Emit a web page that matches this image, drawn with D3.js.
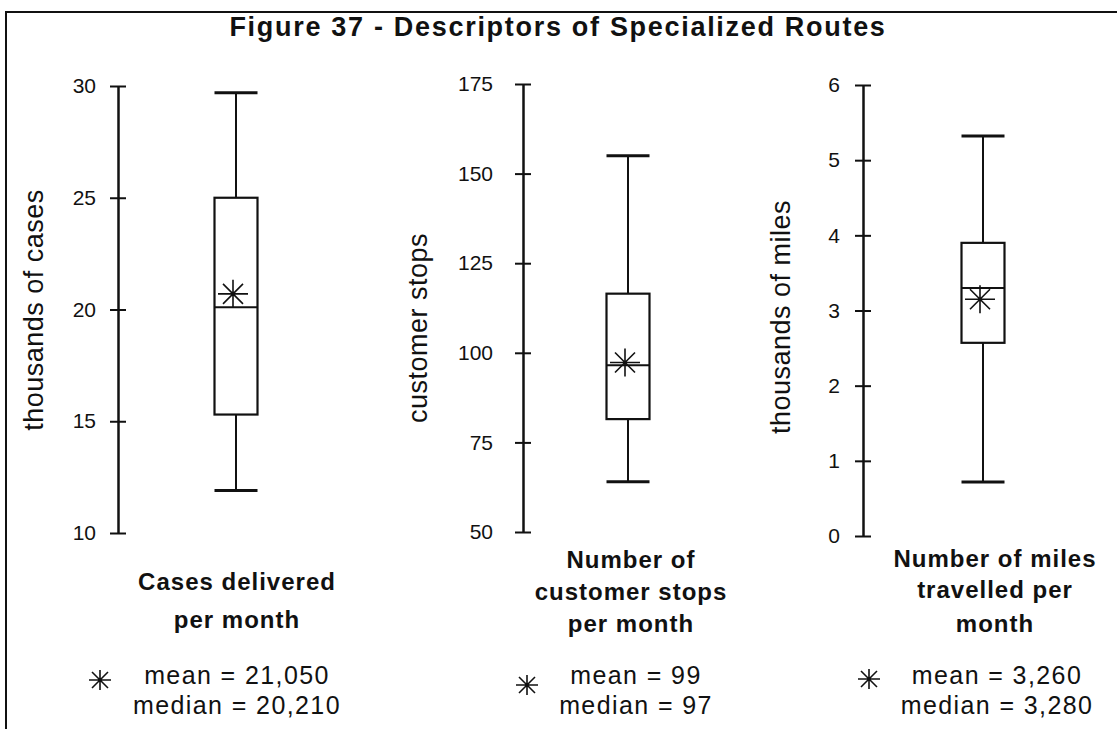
<!DOCTYPE html>
<html>
<head>
<meta charset="utf-8">
<script src="https://cdn.jsdelivr.net/npm/d3@7"></script>
<style>
body { margin: 0; background: #fff; }
text { font-family: "Liberation Sans", Arial, sans-serif; fill: #111; }
</style>
</head>
<body>
<div id="chart"></div>
<script>
// values
let axisTitles = ["thousands of cases", "customer stops", "thousands of miles"];
let yDomains = [[10, 30], [50, 175], [0, 6]];
let yTicks = [[10, 15, 20, 25, 30], [50, 75, 100, 125, 150, 175], [0, 1, 2, 3, 4, 5, 6]];
let whiskerLow = [11.9, 64, 0.72];
let quart1 = [15.3, 81.5, 2.57];
let medians = [20.1, 96.5, 3.3];
let quart3 = [25.0, 116.5, 3.9];
let whiskerHigh = [29.7, 155, 5.32];
let means = [20.7, 97.3, 3.15];
let captions = [["Cases delivered", "per month"], ["Number of", "customer stops", "per month"], ["Number of miles", "travelled per", "month"]];
let meanLabels = ["mean = 21,050", "mean = 99", "mean = 3,260"];
let medianLabels = ["median = 20,210", "median = 97", "median = 3,280"];

// layout
let width = 1117, height = 729;
let axisX = [118, 523, 863];
let boxX = [236, 628, 983];
let boxW = 43;
let yRanges = [[533, 86], [532, 84], [536, 85]];
let tickGap = [22, 30, 23];
let titleX = [43, 427, 790], titleY = [310, 328, 317];
let captionX = [237, 631, 995];
let captionY = [[590, 628], [568, 600, 632], [567, 598, 632]];
let legendX = [237, 636, 997];
let starX = [100, 527, 869], starY = [680, 685, 679];
let ink = "#111";

let star = function (rx, ry, rd) {
    return "M" + (-rx) + ",0H" + rx + "M0," + (-ry) + "V" + ry +
        "M" + (-rd) + "," + (-rd) + "L" + rd + "," + rd +
        "M" + (-rd) + "," + rd + "L" + rd + "," + (-rd);
};

let svg = d3.select("#chart")
    .append("svg")
    .attr("width", width)
    .attr("height", height);

// frame, only the top and left edges are in the scan
svg.append("path")
    .attr("d", "M6," + height + "V12H" + width)
    .attr("fill", "none")
    .attr("stroke", ink)
    .attr("stroke-width", 2);

svg.append("text")
    .attr("x", 558)
    .attr("y", 36)
    .attr("text-anchor", "middle")
    .attr("font-size", 27)
    .attr("font-weight", "bold")
    .attr("letter-spacing", 1.7)
    .text("Figure 37 - Descriptors of Specialized Routes");

let x = d3.scaleOrdinal()
    .domain([0, 1, 2])
    .range(boxX);

axisTitles.forEach(function (t, i) {
    let y = d3.scaleLinear()
        .domain(yDomains[i])
        .range(yRanges[i]);

    let ax = svg.append("g")
        .attr("transform", "translate(" + axisX[i] + ",0)")
        .call(d3.axisLeft(y).tickValues(yTicks[i]).tickFormat(d3.format("d"))
            .tickSizeOuter(0).tickSizeInner(8).tickPadding(tickGap[i] - 8))
        .attr("font-size", 21)
        .attr("color", ink);
    ax.select(".domain").attr("stroke-width", 2.5);
    ax.selectAll(".tick line").attr("x1", 8).attr("stroke-width", 2);

    svg.append("text")
        .attr("transform", "translate(" + titleX[i] + "," + titleY[i] + ") rotate(-90)")
        .attr("text-anchor", "middle")
        .attr("font-size", 27)
        .attr("letter-spacing", 0.5)
        .text(t);

    let g = svg.append("g")
        .attr("stroke", ink)
        .attr("fill", "none");
    let cx = x(i);
    g.append("line")
        .attr("x1", cx).attr("x2", cx)
        .attr("y1", y(quart3[i])).attr("y2", y(whiskerHigh[i]))
        .attr("stroke-width", 2);
    g.append("line")
        .attr("x1", cx).attr("x2", cx)
        .attr("y1", y(quart1[i])).attr("y2", y(whiskerLow[i]))
        .attr("stroke-width", 2);
    g.selectAll(".cap")
        .data([whiskerHigh[i], whiskerLow[i]])
        .enter()
        .append("line")
        .attr("class", "cap")
        .attr("x1", cx - boxW / 2).attr("x2", cx + boxW / 2)
        .attr("y1", function (d) { return y(d); })
        .attr("y2", function (d) { return y(d); })
        .attr("stroke-width", 3);
    g.append("rect")
        .attr("x", cx - boxW / 2)
        .attr("y", y(quart3[i]))
        .attr("width", boxW)
        .attr("height", y(quart1[i]) - y(quart3[i]))
        .attr("stroke-width", 2.2);
    g.append("line")
        .attr("x1", cx - boxW / 2).attr("x2", cx + boxW / 2)
        .attr("y1", y(medians[i])).attr("y2", y(medians[i]))
        .attr("stroke-width", 2);
    g.append("path")
        .attr("transform", "translate(" + (cx - 3) + "," + y(means[i]) + ")")
        .attr("d", star(15, 14, 10))
        .attr("stroke-width", 1.6);

    svg.selectAll(".cap" + i)
        .data(captions[i])
        .enter()
        .append("text")
        .attr("x", captionX[i])
        .attr("y", function (d, j) { return captionY[i][j]; })
        .attr("text-anchor", "middle")
        .attr("font-size", 24)
        .attr("font-weight", "bold")
        .attr("letter-spacing", 1)
        .text(function (d) { return d; });

    svg.append("path")
        .attr("transform", "translate(" + starX[i] + "," + starY[i] + ")")
        .attr("d", star(11, 10, 8))
        .attr("fill", "none")
        .attr("stroke", ink)
        .attr("stroke-width", 1.6);
    svg.selectAll(".leg" + i)
        .data([meanLabels[i], medianLabels[i]])
        .enter()
        .append("text")
        .attr("x", legendX[i])
        .attr("y", function (d, j) { return j ? 714 : 684; })
        .attr("text-anchor", "middle")
        .attr("font-size", 25)
        .attr("letter-spacing", 1.4)
        .text(function (d) { return d; });
});
</script>
</body>
</html>
